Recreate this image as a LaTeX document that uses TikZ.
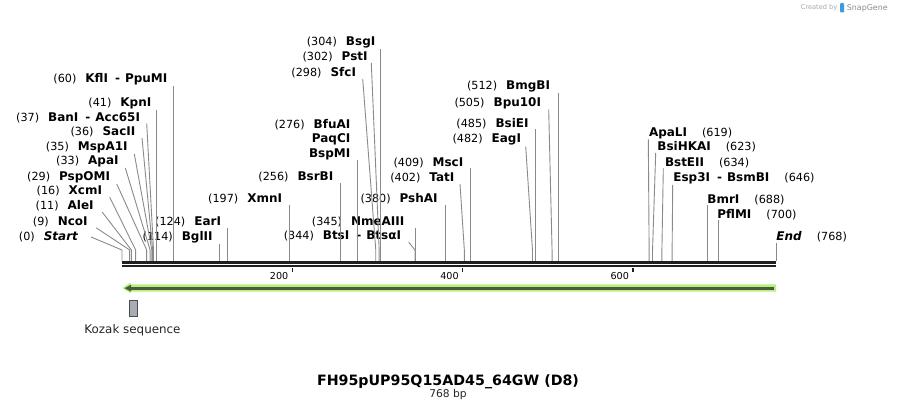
\documentclass[tikz,border=0pt]{standalone}
\usepackage{fontspec}
\setmainfont{DejaVu Sans}[BoldFeatures={Scale=1.07},BoldItalicFeatures={Scale=1.07}]
\definecolor{cutgray}{HTML}{8A8A8A}
\definecolor{featgreen}{HTML}{B4F07C}
\definecolor{featdark}{HTML}{4C5A3E}
\definecolor{kozakfill}{HTML}{A7ACB5}
\definecolor{logoblue}{HTML}{3D9BDB}
\tikzset{
  enz/.style={inner sep=0.5pt, font=\fontsize{11.2}{13}\selectfont},
  enzl/.style={enz, anchor=base east},
  enzr/.style={enz, anchor=base west},
  cut/.style={draw=cutgray, line width=0.9pt},
  ticklbl/.style={inner sep=0pt, anchor=base east, font=\fontsize{9.6}{11}\selectfont},
}
\begin{document}
\begin{tikzpicture}[x=1pt,y=-1pt]
\useasboundingbox (0,0) rectangle (898,411);

\coordinate (c0) at (122,261);
\coordinate (c9) at ({122+0.8516*9},261);
\coordinate (c11) at ({122+0.8516*11},261);
\coordinate (c16) at ({122+0.8516*16},261);
\coordinate (c29) at ({122+0.8516*29},261);
\coordinate (c33) at ({122+0.8516*33},261);
\coordinate (c35) at ({122+0.8516*35},261);
\coordinate (c36) at ({122+0.8516*36},261);
\coordinate (c37) at ({122+0.8516*37},261);
\coordinate (c41) at ({122+0.8516*41},261);
\coordinate (c60) at ({122+0.8516*60},261);
\coordinate (c114) at ({122+0.8516*114},261);
\coordinate (c124) at ({122+0.8516*124},261);
\coordinate (c197) at ({122+0.8516*197},261);
\coordinate (c256) at ({122+0.8516*256},261);
\coordinate (c276) at ({122+0.8516*276},261);
\coordinate (c298) at ({122+0.8516*298},261);
\coordinate (c302) at ({122+0.8516*302},261);
\coordinate (c304) at ({122+0.8516*304},261);
\coordinate (c344) at ({122+0.8516*344},261);
\coordinate (c345) at ({122+0.8516*345},261);
\coordinate (c380) at ({122+0.8516*380},261);
\coordinate (c402) at ({122+0.8516*402},261);
\coordinate (c409) at ({122+0.8516*409},261);
\coordinate (c482) at ({122+0.8516*482},261);
\coordinate (c485) at ({122+0.8516*485},261);
\coordinate (c505) at ({122+0.8516*505},261);
\coordinate (c512) at ({122+0.8516*512},261);
\coordinate (c619) at ({122+0.8516*619},261);
\coordinate (c623) at ({122+0.8516*623},261);
\coordinate (c634) at ({122+0.8516*634},261);
\coordinate (c646) at ({122+0.8516*646},261);
\coordinate (c688) at ({122+0.8516*688},261);
\coordinate (c700) at ({122+0.8516*700},261);
\coordinate (c768) at (776,261);

\node[enzl] (kfl) at (168,83) {(60)\hspace{9pt}\textbf{KflI}\hspace{7pt}\textbf{-}\hspace{5pt}\textbf{PpuMI}};
\node[enzl] (kpn) at (152,106.7) {(41)\hspace{9pt}\textbf{KpnI}};
\node[enzl] (ban) at (140.7,121.3) {(37)\hspace{9pt}\textbf{BanI}\hspace{7pt}\textbf{-}\hspace{5pt}\textbf{Acc65I}};
\node[enzl] (sac) at (136,135.7) {(36)\hspace{9pt}\textbf{SacII}};
\node[enzl] (msp) at (128.3,150.7) {(35)\hspace{9pt}\textbf{MspA1I}};
\node[enzl] (apa) at (119.3,164.7) {(33)\hspace{9pt}\textbf{ApaI}};
\node[enzl] (psp) at (110.7,180.7) {(29)\hspace{9pt}\textbf{PspOMI}};
\node[enzl] (xcm) at (102.7,195) {(16)\hspace{9pt}\textbf{XcmI}};
\node[enzl] (ale) at (94.3,210) {(11)\hspace{9pt}\textbf{AleI}};
\node[enzl] (nco) at (88.3,225.7) {(9)\hspace{9pt}\textbf{NcoI}};
\node[enzl] (start) at (79,240.7) {(0)\hspace{9pt}\textbf{\textit{Start}}};
\node[enzl] (ear) at (221.7,225.7) {(124)\hspace{9pt}\textbf{EarI}};
\node[enzl] (bgl) at (213.3,240.7) {(114)\hspace{9pt}\textbf{BglII}};
\node[enzl] (xmn) at (282.7,203) {(197)\hspace{9pt}\textbf{XmnI}};
\node[enzl] (bsrb) at (334,180.7) {(256)\hspace{9pt}\textbf{BsrBI}};
\node[enzl] (bfu) at (351,128.3) {(276)\hspace{9pt}\textbf{BfuAI}};
\node[enzl] (paq) at (351,142.7) {\textbf{PaqCI}};
\node[enzl] (bspm) at (351,157.3) {\textbf{BspMI}};
\node[enzl] (sfc) at (356.7,76.7) {(298)\hspace{9pt}\textbf{SfcI}};
\node[enzl] (pst) at (368.3,60.7) {(302)\hspace{9pt}\textbf{PstI}};
\node[enzl] (bsg) at (376,45.7) {(304)\hspace{9pt}\textbf{BsgI}};
\node[enzl] (bts) at (401.7,240) {(344)\hspace{9pt}\textbf{BtsI}\hspace{7pt}\textbf{-}\hspace{5pt}\textbf{BtsαI}};
\node[enzl] (nme) at (405,225.7) {(345)\hspace{9pt}\textbf{NmeAIII}};
\node[enzl] (psh) at (438.3,203) {(380)\hspace{9pt}\textbf{PshAI}};
\node[enzl] (tat) at (455,181.7) {(402)\hspace{9pt}\textbf{TatI}};
\node[enzl] (msc) at (464,166.3) {(409)\hspace{9pt}\textbf{MscI}};
\node[enzl] (eag) at (521.7,143) {(482)\hspace{9pt}\textbf{EagI}};
\node[enzl] (bsie) at (529.3,127.3) {(485)\hspace{9pt}\textbf{BsiEI}};
\node[enzl] (bpu) at (541.7,106.3) {(505)\hspace{9pt}\textbf{Bpu10I}};
\node[enzl] (bmg) at (550.7,90) {(512)\hspace{9pt}\textbf{BmgBI}};
\node[enzr] (apal) at (648.3,136.3) {\textbf{ApaLI}\hspace{15pt}(619)};
\node[enzr] (bsih) at (656.7,150.7) {\textbf{BsiHKAI}\hspace{15pt}(623)};
\node[enzr] (bste) at (664.3,166.3) {\textbf{BstEII}\hspace{15pt}(634)};
\node[enzr] (esp) at (672.7,181.7) {\textbf{Esp3I}\hspace{7pt}\textbf{-}\hspace{5pt}\textbf{BsmBI}\hspace{15pt}(646)};
\node[enzr] (bmr) at (706.7,203.3) {\textbf{BmrI}\hspace{15pt}(688)};
\node[enzr] (pfl) at (716.7,218.3) {\textbf{PflMI}\hspace{15pt}(700)};
\node[enzr] (endl) at (775.7,240.7) {\textbf{\textit{End}}\hspace{15pt}(768)};

\draw[cut] (c60 |- kfl.south) -- (c60);
\draw[cut] (c41 |- kpn.south) -- (c41);
\draw[cut] ([xshift=6pt]ban.south east) -- ([yshift=11pt]c37) -- (c37);
\draw[cut] ([xshift=6pt]sac.south east) -- ([yshift=11pt]c36) -- (c36);
\draw[cut] ([xshift=6pt]msp.south east) -- ([yshift=11pt]c35) -- (c35);
\draw[cut] ([xshift=6pt]apa.south east) -- ([yshift=11pt]c33) -- (c33);
\draw[cut] ([xshift=6pt]psp.south east) -- ([yshift=11pt]c29) -- (c29);
\draw[cut] ([xshift=7pt]xcm.south east) -- ([yshift=11pt]c16) -- (c16);
\draw[cut] ([xshift=8pt]ale.south east) -- ([yshift=11pt]c11) -- (c11);
\draw[cut] ([xshift=8pt]nco.south east) -- ([yshift=11pt]c9) -- (c9);
\draw[cut] ([xshift=12pt]start.east) -- ([yshift=11pt]c0) -- (c0);
\draw[cut] (c124 |- ear.south) -- (c124);
\draw[cut] (c114 |- bgl.south) -- (c114);
\draw[cut] (c197 |- xmn.south) -- (c197);
\draw[cut] (c256 |- bsrb.south) -- (c256);
\draw[cut] (c276 |- bspm.south) -- (c276);
\draw[cut] ([xshift=6pt]sfc.south east) -- ([yshift=11pt]c298) -- (c298);
\draw[cut] ([xshift=3pt]pst.south east) -- ([yshift=11pt]c302) -- (c302);
\draw[cut] (c304 |- bsg.south) -- (c304);
\draw[cut] ([xshift=7pt]bts.south east) -- ([yshift=11pt]c344) -- (c344);
\draw[cut] (c345 |- nme.south) -- (c345);
\draw[cut] (c380 |- psh.south) -- (c380);
\draw[cut] ([xshift=5pt]tat.south east) -- ([yshift=11pt]c402) -- (c402);
\draw[cut] (c409 |- msc.south) -- (c409);
\draw[cut] ([xshift=4pt]eag.south east) -- ([yshift=11pt]c482) -- (c482);
\draw[cut] (c485 |- bsie.south) -- (c485);
\draw[cut] ([xshift=7pt]bpu.south east) -- ([yshift=11pt]c505) -- (c505);
\draw[cut] (c512 |- bmg.south) -- (c512);
\draw[cut] (apal.south west) -- ([yshift=11pt]c619) -- (c619);
\draw[cut] ([xshift=-1pt]bsih.south west) -- ([yshift=11pt]c623) -- (c623);
\draw[cut] ([xshift=-1pt]bste.south west) -- ([yshift=11pt]c634) -- (c634);
\draw[cut] (esp.south west) -- ([yshift=11pt]c646) -- (c646);
\draw[cut] (c688 |- bmr.south) -- (c688);
\draw[cut] (c700 |- pfl.south) -- (c700);
\draw[cut] (c768 |- endl.south) -- (c768);

\draw[line width=2.7pt, black!88] (122,262.4) -- (776,262.4);
\draw[line width=2.3pt, black!88] (122,266.2) -- (776,266.2);

\draw[line width=1.4pt, black!88] ({122+0.8516*200},267.6) -- ++(0,4.8);
\draw[line width=1.4pt, black!88] ({122+0.8516*400},267.6) -- ++(0,4.8);
\draw[line width=1.4pt, black!88] ({122+0.8516*600},267.6) -- ++(0,4.8);
\node[ticklbl] (t200) at ({122+0.8516*200-3.8},279.2) {200};
\node[ticklbl] (t400) at ({122+0.8516*400-3.8},279.2) {400};
\node[ticklbl] (t600) at ({122+0.8516*600-3.8},279.2) {600};

\fill[featgreen] (776,284.4) -- (130.5,284.4) -- (130.5,282.6) -- (122.4,288) -- (130.5,293.4) -- (130.5,291.6) -- (776,291.6) -- cycle;
\draw[featdark, line width=3pt] (773.7,288.2) -- (130,288.2);
\fill[featdark] (124.6,288.2) -- (131,284.8) -- (131,291.6) -- cycle;

\draw[fill=kozakfill, draw=black!70, line width=0.9pt] (129.5,300.3) rectangle (137.3,316);
\node[inner sep=0pt, anchor=base, font=\fontsize{11.9}{13}\selectfont, text=black!85] (kozak) at (132.5,333.3) {Kozak sequence};

\node[inner sep=0pt, anchor=base, font=\fontsize{13.3}{16}\selectfont\bfseries] (title) at (448,385.7) {FH95pUP95Q15AD45\_64GW (D8)};
\node[inner sep=0pt, anchor=base, font=\fontsize{10.7}{12}\selectfont, text=black!85] (len) at (448,397.6) {768 bp};

\node[inner sep=0pt, anchor=base west, font=\fontsize{6.6}{8}\selectfont, text=black!35] (made) at (800.7,10) {Created by};
\fill[logoblue, rounded corners=1pt] (840,3) rectangle (844,12.5);
\node[inner sep=0pt, anchor=base west, font=\fontsize{7.9}{9}\selectfont, text=black!45] (snap) at (846.7,10.5) {SnapGene};
\end{tikzpicture}
\end{document}
